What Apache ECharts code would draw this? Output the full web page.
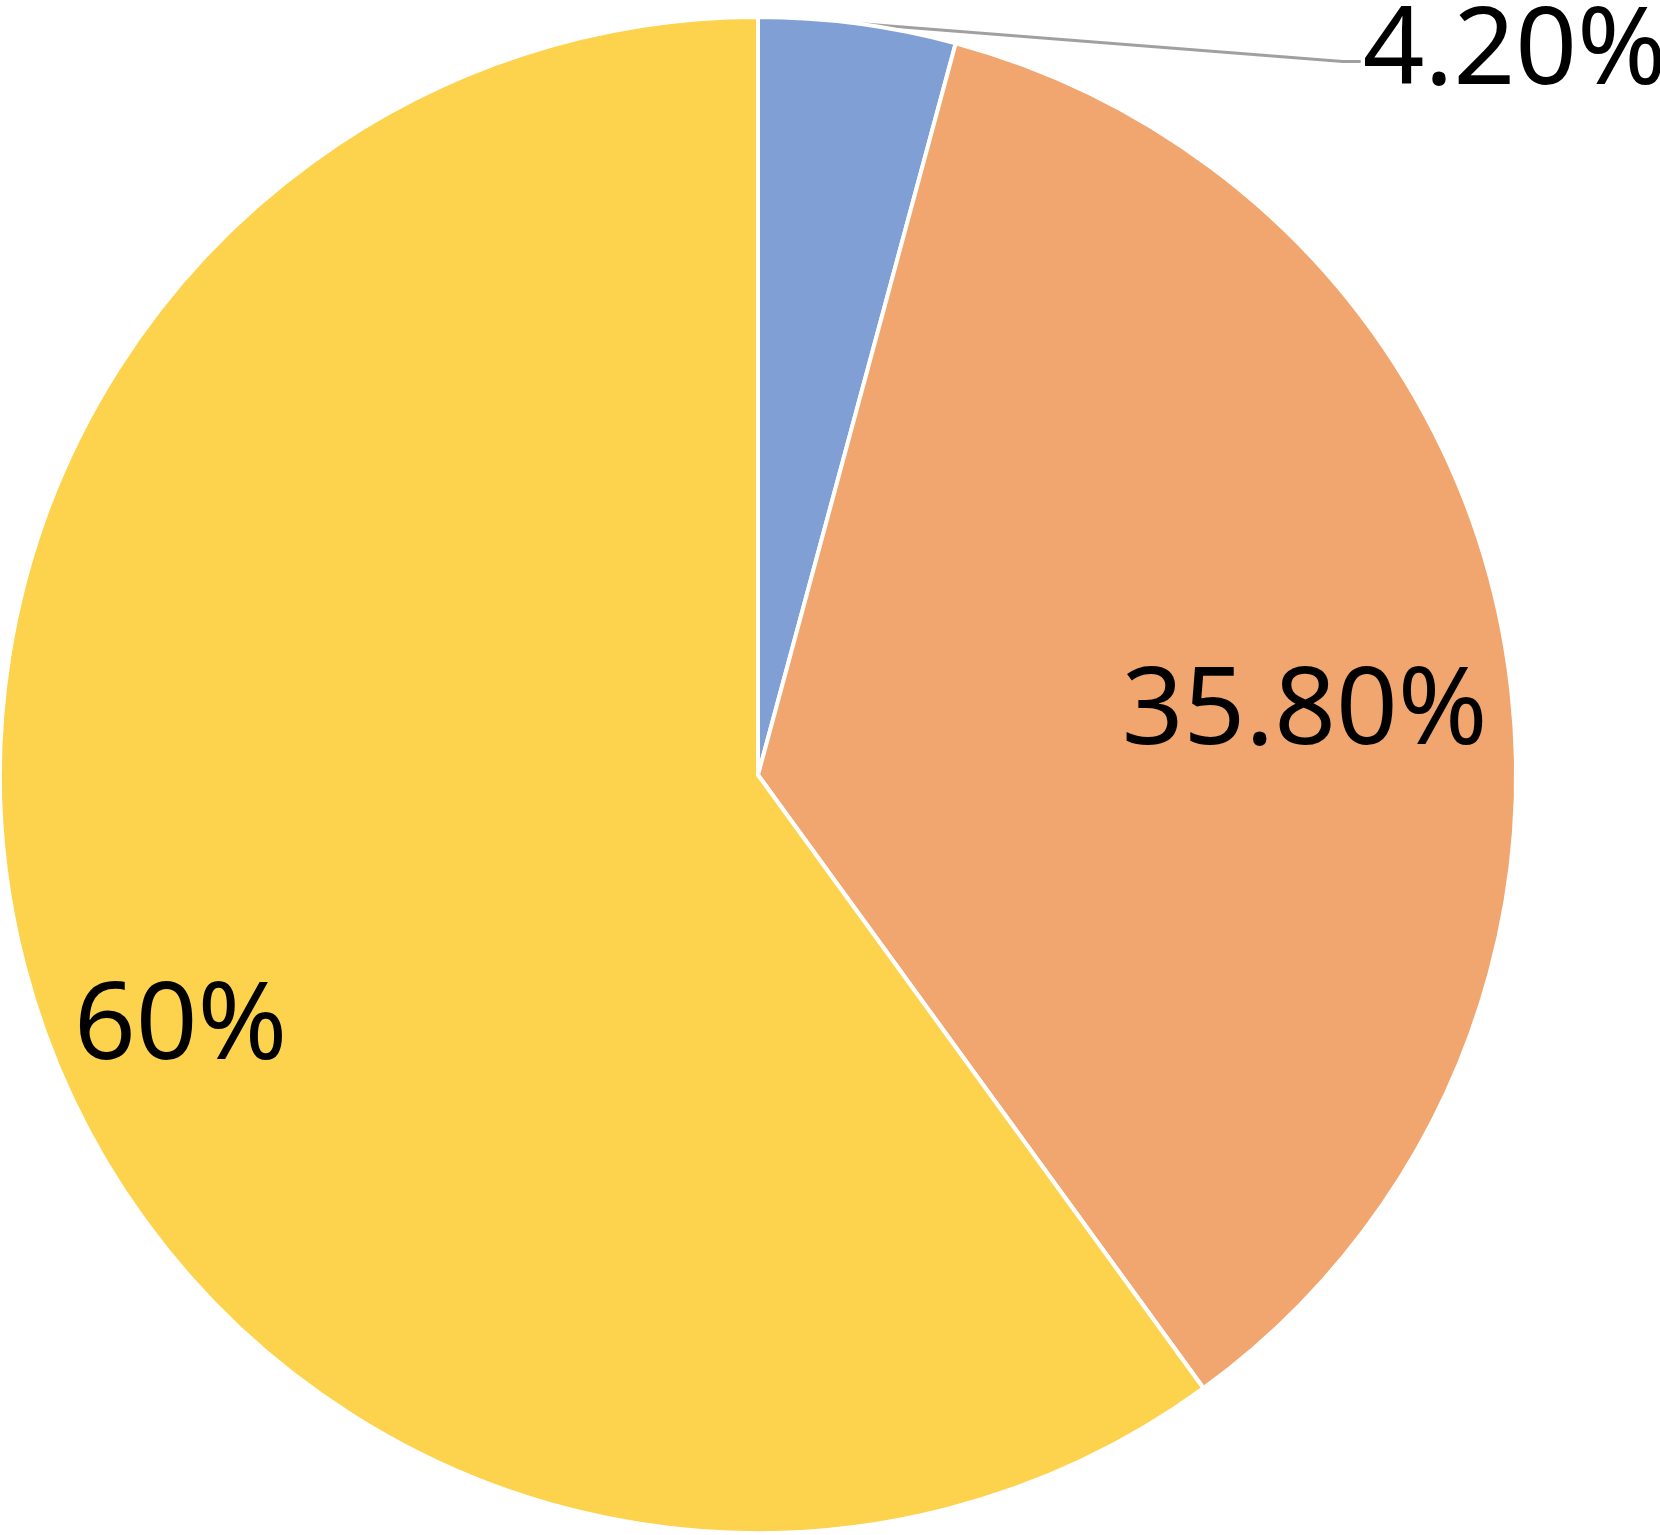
<!DOCTYPE html>
<html>
<head>
<meta charset="utf-8">
<script src="https://cdn.jsdelivr.net/npm/echarts@6/dist/echarts.min.js"></script>
<style>
  html, body { margin: 0; padding: 0; background: #fff; }
  #main { width: 1660px; height: 1535px; }
</style>
</head>
<body>
<div id="main"></div>
<script>
// 数据
var values = [4.2, 35.8, 60]
var labels = ['4.20%', '35.80%', '60%']
var colors = ['#7F9FD5', '#F1A56F', '#FDD24C']

var main = document.getElementById('main')
var myChart = echarts.init(main)

var seriesData = values.map(function (v, i) {
    return {
        value: v,
        name: labels[i],
        itemStyle: { color: colors[i] },
        // 小扇区放外面，其余放里面
        label: { position: i === 0 ? 'outside' : 'inside' },
        labelLine: { show: i === 0 }
    }
})

var option = {
    animation: false,
    series: [
        {
            type: 'pie',
            center: [758, 775],
            radius: [0, 758],
            startAngle: 90,
            clockwise: true,
            avoidLabelOverlap: false,
            silent: true,
            itemStyle: {
                borderColor: '#fff',
                borderWidth: 4
            },
            label: {
                show: true,
                formatter: function (p) { return labels[p.dataIndex] },
                fontFamily: 'Noto Sans',
                fontSize: 108,
                color: '#000'
            },
            labelLine: {
                lineStyle: { color: '#A0A0A0', width: 3 }
            },
            // 手动微调标签位置
            labelLayout: function (params) {
                if (params.dataIndex === 0) {
                    var p0 = params.labelLinePoints ? params.labelLinePoints[0] : [858, 22]
                    return {
                        x: p0[0] + 505,
                        y: p0[1] + 30,
                        align: 'left',
                        verticalAlign: 'middle',
                        labelLinePoints: [
                            [p0[0], p0[1]],
                            [p0[0] + 485, p0[1] + 38],
                            [p0[0] + 503, p0[1] + 38]
                        ]
                    }
                }
                if (params.dataIndex === 1) {
                    return { dx: 171, dy: 7 }
                }
                return { dx: -214, dy: 135 }
            },
            data: seriesData
        }
    ]
}
myChart.setOption(option)
</script>
</body>
</html>
